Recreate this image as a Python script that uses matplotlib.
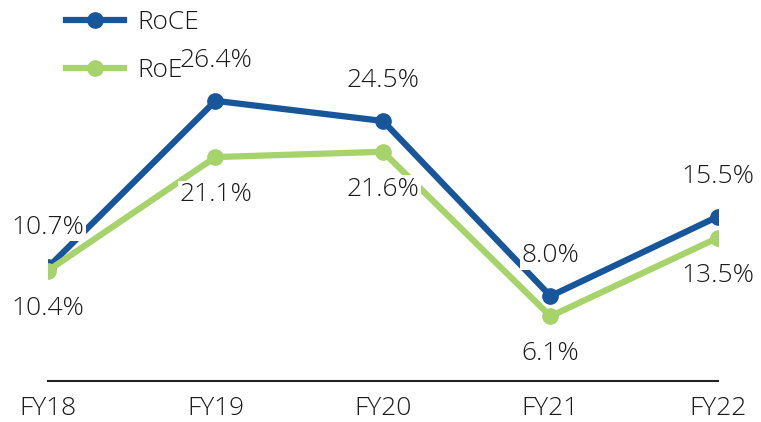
import matplotlib.pyplot as plt

years = ['FY18', 'FY19', 'FY20', 'FY21', 'FY22']
roce = [10.7, 26.4, 24.5, 8.0, 15.5]
roe = [10.4, 21.1, 21.6, 6.1, 13.5]

plt.rcParams['font.family'] = ['Open Sans', 'DejaVu Sans']
plt.rcParams['font.weight'] = 'light'

blue = '#17569B'
green = '#A6D36A'
txt = '#1a1a1a'
fs = 19

fig = plt.figure(figsize=(7.61, 4.22), dpi=100)
ax = fig.add_axes([48 / 761, 41 / 422, 670 / 761, 381 / 422])

x = list(range(len(years)))
ax.plot(x, roce, color=blue, lw=4.5, marker='o', ms=11, label='RoCE', zorder=3)
ax.plot(x, roe, color=green, lw=4.5, marker='o', ms=11, label='RoE', zorder=4)

for i in x:
    ax.annotate(f'{roce[i]:.1f}%', (i, roce[i]), xytext=(0, 29), textcoords='offset points',
                ha='center', va='center', fontsize=fs, color=txt, zorder=5,
                bbox=dict(facecolor='white', edgecolor='none', pad=1))
    ax.annotate(f'{roe[i]:.1f}%', (i, roe[i]), xytext=(0, -27), textcoords='offset points',
                ha='center', va='center', fontsize=fs, color=txt, zorder=5,
                bbox=dict(facecolor='white', edgecolor='none', pad=1))

ax.set_xlim(0, 4)
ax.set_ylim(0, 35.9)
ax.set_xticks(x)
ax.set_xticklabels(years, fontsize=fs, color=txt)
ax.tick_params(axis='x', length=0, pad=11)
ax.set_yticks([])
for s in ['top', 'right', 'left']:
    ax.spines[s].set_visible(False)
ax.spines['bottom'].set_linewidth(1.5)
ax.spines['bottom'].set_color('#222222')

leg = ax.legend(loc='upper left', bbox_to_anchor=(-0.008, 1.035), frameon=False, fontsize=fs,
                handlelength=2.2, labelspacing=0.85, handletextpad=0.5)
leg.set_zorder(10)
for t in leg.get_texts():
    t.set_color(txt)

fig.savefig('out.png', dpi=100)
